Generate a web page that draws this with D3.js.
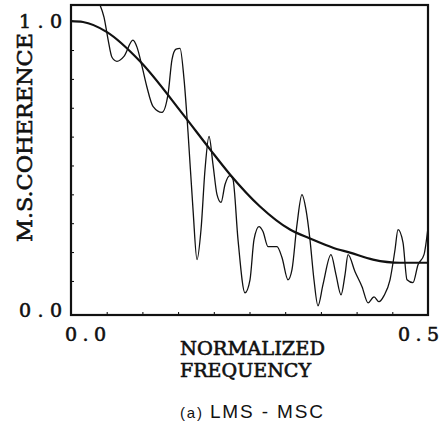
<!DOCTYPE html>
<html lang="en">
<head>
    <meta charset="UTF-8">
    <title>LMS - MSC</title>
    <style>
        body{
            margin: 0;
            background: white;
        }
        svg{
            display: block;
        }
        .mono{
            font-family: "DejaVu Serif", "Liberation Serif", serif;
            fill: #111;
            stroke: #111;
            stroke-width: 0.6;
        }
        .caption{
            font-family: "Liberation Sans", Arial, sans-serif;
            fill: #111;
        }
        .frame{
            fill: none;
            stroke: #111;
            stroke-width: 2.2;
        }
        .smooth{
            fill: none;
            stroke: #111;
            stroke-width: 2.2;
        }
        .noisy{
            fill: none;
            stroke: #111;
            stroke-width: 1.3;
        }
    </style>
    <script src="https://d3js.org/d3.v7.min.js"></script>
</head>
<body>
<svg id="figure" width="444" height="425" viewBox="0 0 444 425"></svg>
<script>
    // estimated MSC (noisy LMS estimate)
    let noisyFreq = [0.0406, 0.0462, 0.0518, 0.0574, 0.0644, 0.0742, 0.0868, 0.0924, 0.0994, 0.1064,
        0.1148, 0.1275, 0.1359, 0.1415, 0.1471, 0.1527, 0.1583, 0.1639, 0.1709, 0.1765,
        0.1821, 0.1877, 0.1933, 0.1989, 0.2045, 0.2101, 0.2157, 0.2227, 0.2269, 0.2339,
        0.2437, 0.2507, 0.2563, 0.2633, 0.2689, 0.2759, 0.2885, 0.2955, 0.3039, 0.3095,
        0.3165, 0.3235, 0.3291, 0.3347, 0.3403, 0.3459, 0.3529, 0.3641, 0.3711, 0.3782,
        0.3838, 0.3880, 0.3978, 0.4076, 0.4160, 0.4244, 0.4314, 0.4384, 0.4468, 0.4538,
        0.4580, 0.4650, 0.4706, 0.4790, 0.4860, 0.4944, 0.5000]
    let noisyMsc = [1.056, 1.014, 0.938, 0.875, 0.861, 0.878, 0.934, 0.910, 0.844, 0.771,
        0.705, 0.684, 0.747, 0.868, 0.903, 0.906, 0.799, 0.615, 0.347, 0.174,
        0.278, 0.486, 0.601, 0.503, 0.399, 0.372, 0.434, 0.465, 0.451, 0.243,
        0.059, 0.104, 0.243, 0.288, 0.271, 0.219, 0.219, 0.181, 0.104, 0.139,
        0.295, 0.399, 0.347, 0.243, 0.104, 0.014, 0.087, 0.191, 0.122, 0.052,
        0.122, 0.191, 0.132, 0.080, 0.024, 0.045, 0.028, 0.049, 0.104, 0.208,
        0.278, 0.233, 0.104, 0.094, 0.156, 0.191, 0.285]

    // true MSC (smooth)
    let trueFreq = [0, 0.0168, 0.0504, 0.0966, 0.1569, 0.1947, 0.2227, 0.2647, 0.3067, 0.3347,
        0.3669, 0.3908, 0.4230, 0.4608, 0.5]
    let trueMsc = [1.0, 0.997, 0.962, 0.861, 0.677, 0.556, 0.469, 0.358, 0.278, 0.247,
        0.215, 0.198, 0.174, 0.163, 0.163]

    let yTicks = ["1.0", "0.0"]
    let xTicks = ["0.0", "0.5"]

    let mLeft = 71, mRight = 428, mTop = 5, mBottom = 315

    let svg = d3.select("#figure")

    let xScale = d3.scaleLinear().domain([0, 0.5]).range([mLeft, mRight])
    let yScale = d3.scaleLinear().domain([-0.018, 1.056]).range([mBottom, mTop])

    svg.append("clipPath").attr("id", "clip")
        .append("rect")
        .attr("x", mLeft).attr("y", mTop)
        .attr("width", mRight - mLeft).attr("height", mBottom - mTop)

    let line = d3.line()
        .x(function (d){return xScale(d.x)})
        .y(function (d){return yScale(d.y)})
        .curve(d3.curveMonotoneX)

    let noisy = noisyFreq.map(function (f, i){return {x: f, y: noisyMsc[i]}})
    let smooth = trueFreq.map(function (f, i){return {x: f, y: trueMsc[i]}})

    svg.append("path").datum(noisy)
        .attr("class", "noisy")
        .attr("clip-path", "url(#clip)")
        .attr("d", line)

    svg.append("path").datum(smooth)
        .attr("class", "smooth")
        .attr("clip-path", "url(#clip)")
        .attr("d", line)

    // small inner ticks on the frame
    svg.append("g")
        .attr("transform", `translate(${mLeft},0)`)
        .call(d3.axisLeft(yScale).tickValues(d3.range(0.1, 1.0, 0.1)).tickSize(-3).tickFormat(""))
        .call(function (g){g.select(".domain").remove()})
    svg.append("g")
        .attr("transform", `translate(0,${mBottom})`)
        .call(d3.axisBottom(xScale).tickValues(d3.range(0.05, 0.5, 0.05)).tickSize(-3).tickFormat(""))
        .call(function (g){g.select(".domain").remove()})

    // frame
    svg.append("rect")
        .attr("class", "frame")
        .attr("x", mLeft).attr("y", mTop)
        .attr("width", mRight - mLeft).attr("height", mBottom - mTop)

    // y tick labels
    svg.selectAll(".ylab")
        .data(yTicks)
        .enter()
        .append("text")
        .attr("class", "mono")
        .attr("x", 62)
        .attr("y", function (d){return yScale(+d) + 7})
        .attr("text-anchor", "end")
        .attr("font-size", 19)
        .attr("textLength", 43)
        .attr("lengthAdjust", "spacing")
        .text(function (d){return d})

    // x tick labels
    svg.selectAll(".xlab")
        .data(xTicks)
        .enter()
        .append("text")
        .attr("class", "mono")
        .attr("x", function (d){return xScale(+d) + (+d === 0 ? -6 : -30)})
        .attr("y", 341)
        .attr("font-size", 19)
        .attr("textLength", 41)
        .attr("lengthAdjust", "spacing")
        .text(function (d){return d})

    // axis titles
    svg.append("text")
        .attr("class", "mono")
        .attr("transform", `translate(32,242) rotate(-90)`)
        .attr("font-size", 20)
        .attr("textLength", 209)
        .attr("lengthAdjust", "spacingAndGlyphs")
        .text("M.S.COHERENCE")

    svg.append("text")
        .attr("class", "mono")
        .attr("x", 180).attr("y", 355)
        .attr("font-size", 19)
        .attr("textLength", 145)
        .attr("lengthAdjust", "spacingAndGlyphs")
        .text("NORMALIZED")

    svg.append("text")
        .attr("class", "mono")
        .attr("x", 180).attr("y", 377)
        .attr("font-size", 19)
        .attr("textLength", 131)
        .attr("lengthAdjust", "spacingAndGlyphs")
        .text("FREQUENCY")

    // caption
    let cap = svg.append("text")
        .attr("class", "caption")
        .attr("x", 180).attr("y", 418)
        .attr("font-size", 19)
        .attr("textLength", 143)
        .attr("lengthAdjust", "spacing")
    cap.append("tspan").attr("font-size", 15).text("(a) ")
    cap.append("tspan").text("LMS - MSC")
</script>
</body>
</html>
